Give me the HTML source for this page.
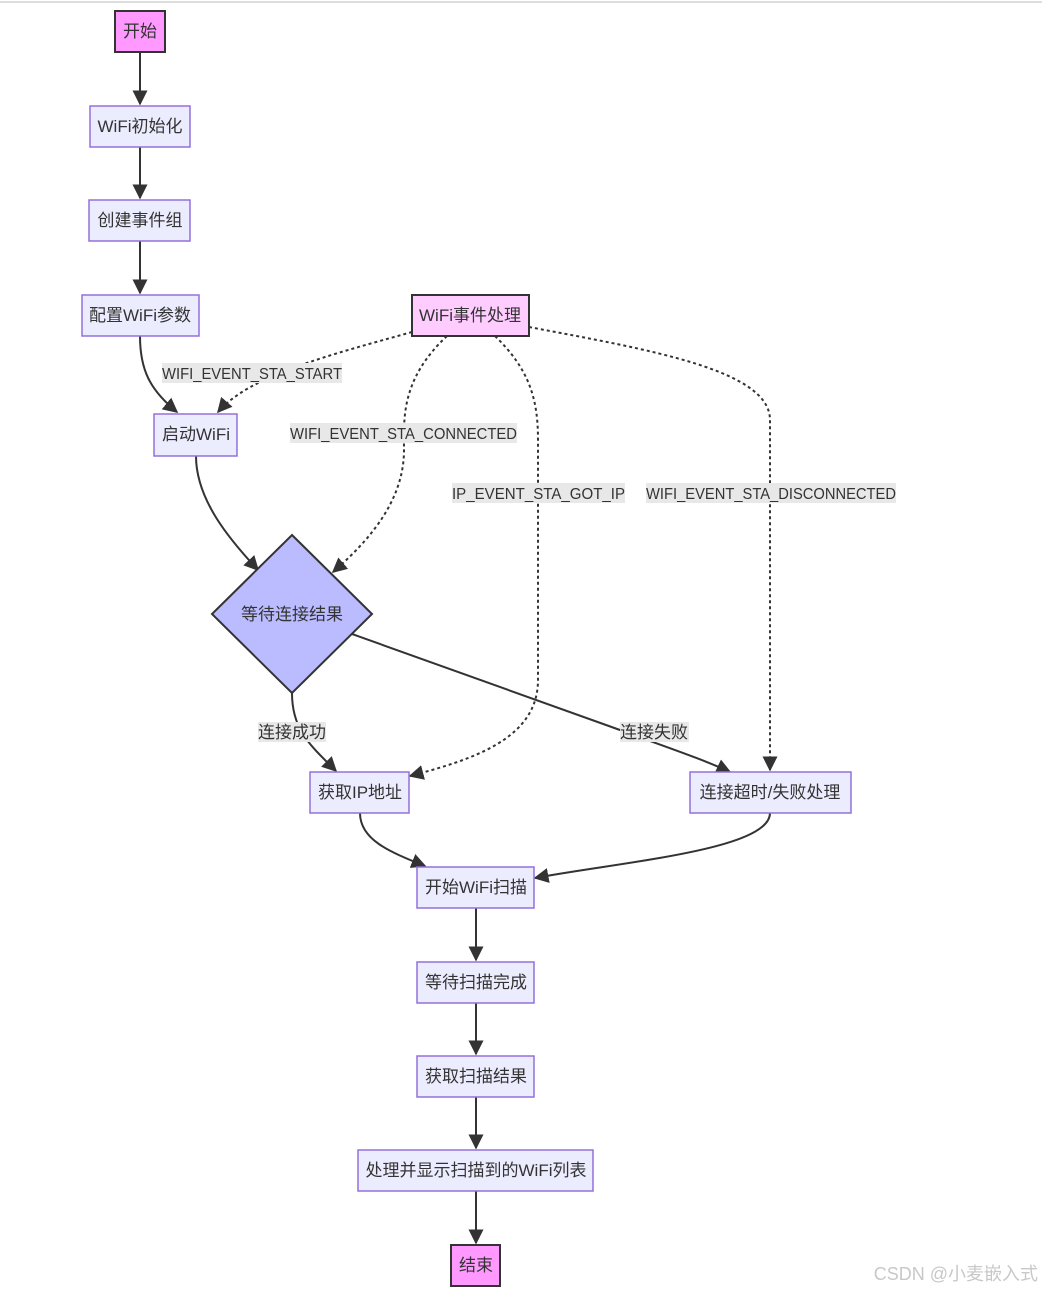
<!DOCTYPE html>
<html><head><meta charset="utf-8"><style>
html,body{margin:0;padding:0;background:#fff;}
svg{display:block;}
text{font-family:"Liberation Sans","Noto Sans CJK SC",sans-serif;font-size:16px;fill:#333;}
.n{fill:#ececff;stroke:#9370db;stroke-width:1.5;}
.e{fill:none;stroke:#333;stroke-width:2;}
.d{fill:none;stroke:#333;stroke-width:2;stroke-dasharray:3 3;}
.lb{fill:#e8e8e8;}
</style></head><body>
<svg width="1042" height="1291" viewBox="0 0 1042 1291" xmlns="http://www.w3.org/2000/svg">
<defs>
<marker id="b" viewBox="0 0 10 10" refX="9" refY="5" markerWidth="15" markerHeight="15" orient="auto" markerUnits="userSpaceOnUse"><path d="M0,0L10,5L0,10z" fill="#333"/></marker></defs>
<line x1="0" y1="2" x2="1042" y2="2" stroke="#ddd" stroke-width="2"/>
<path class="e" d="M140,52V104" marker-end="url(#b)"/>
<path class="e" d="M140,147V198" marker-end="url(#b)"/>
<path class="e" d="M140,241V293" marker-end="url(#b)"/>
<path class="e" d="M140,336C140,370 150,390 177,412" marker-end="url(#b)"/>
<path class="d" d="M412,332C330,355 250,375 218,412" marker-end="url(#b)"/>
<path class="d" d="M447,336C400,380 404,420 404,450C404,500 370,540 333,572" marker-end="url(#b)"/>
<path class="d" d="M495,336C530,370 538,400 538,440V680C538,740 470,760 410,776" marker-end="url(#b)"/>
<path class="d" d="M529,327C650,350 770,370 770,420V770" marker-end="url(#b)"/>
<path class="e" d="M196,456C196,500 230,540 258,570" marker-end="url(#b)"/>
<path class="e" d="M292,693C292,730 310,745 336,771" marker-end="url(#b)"/>
<path class="e" d="M352,634L620,730C660,745 700,758 730,772" marker-end="url(#b)"/>
<path class="e" d="M360,813C360,840 390,852 425,866" marker-end="url(#b)"/>
<path class="e" d="M770,813C770,850 620,862 535,878" marker-end="url(#b)"/>
<path class="e" d="M476,908V960" marker-end="url(#b)"/>
<path class="e" d="M476,1003V1054" marker-end="url(#b)"/>
<path class="e" d="M476,1097V1148" marker-end="url(#b)"/>
<path class="e" d="M476,1191V1243" marker-end="url(#b)"/>
<rect class="lb" x="162" y="363" width="180" height="20"/><text x="162" y="379" textLength="180" lengthAdjust="spacingAndGlyphs">WIFI_EVENT_STA_START</text>
<rect class="lb" x="290" y="423" width="227" height="20"/><text x="290" y="439" textLength="227" lengthAdjust="spacingAndGlyphs">WIFI_EVENT_STA_CONNECTED</text>
<rect class="lb" x="452" y="483" width="173" height="20"/><text x="452" y="499" textLength="173" lengthAdjust="spacingAndGlyphs">IP_EVENT_STA_GOT_IP</text>
<rect class="lb" x="646" y="483" width="250" height="20"/><text x="646" y="499" textLength="250" lengthAdjust="spacingAndGlyphs">WIFI_EVENT_STA_DISCONNECTED</text>
<rect class="lb" x="258" y="722" width="68" height="20"/><text x="292" y="738" text-anchor="middle" style="font-size:17px">连接成功</text>
<rect class="lb" x="620" y="722" width="69" height="20"/><text x="654" y="738" text-anchor="middle" style="font-size:17px">连接失败</text>
<rect x="115" y="11" width="50" height="41" fill="#f9f" stroke="#333" stroke-width="2"/><text x="140" y="37" text-anchor="middle" style="font-size:17px">开始</text>
<rect class="n" x="90" y="106" width="100" height="41"/><text x="140" y="132" text-anchor="middle" style="font-size:17px">WiFi初始化</text>
<rect class="n" x="89" y="200" width="101" height="41"/><text x="140" y="226" text-anchor="middle" style="font-size:17px">创建事件组</text>
<rect class="n" x="82" y="295" width="117" height="41"/><text x="140" y="321" text-anchor="middle" style="font-size:17px">配置WiFi参数</text>
<rect x="412" y="295" width="117" height="41" fill="#fcf" stroke="#333" stroke-width="2"/><text x="470" y="321" text-anchor="middle" style="font-size:17px">WiFi事件处理</text>
<rect class="n" x="154" y="414" width="83" height="42"/><text x="196" y="440" text-anchor="middle" style="font-size:17px">启动WiFi</text>
<polygon points="292,535 372,614 292,693 212,614" fill="#bbf" stroke="#333" stroke-width="2"/><text x="292" y="620" text-anchor="middle" style="font-size:17px">等待连接结果</text>
<rect class="n" x="310" y="772" width="99" height="41"/><text x="360" y="798" text-anchor="middle" style="font-size:17px">获取IP地址</text>
<rect class="n" x="690" y="772" width="161" height="41"/><text x="770" y="798" text-anchor="middle" style="font-size:17px">连接超时/失败处理</text>
<rect class="n" x="417" y="867" width="117" height="41"/><text x="476" y="893" text-anchor="middle" style="font-size:17px">开始WiFi扫描</text>
<rect class="n" x="417" y="962" width="117" height="41"/><text x="476" y="988" text-anchor="middle" style="font-size:17px">等待扫描完成</text>
<rect class="n" x="417" y="1056" width="117" height="41"/><text x="476" y="1082" text-anchor="middle" style="font-size:17px">获取扫描结果</text>
<rect class="n" x="358" y="1150" width="235" height="41"/><text x="476" y="1176" text-anchor="middle" style="font-size:17px">处理并显示扫描到的WiFi列表</text>
<rect x="451" y="1245" width="49" height="41" fill="#f9f" stroke="#333" stroke-width="2"/><text x="476" y="1271" text-anchor="middle" style="font-size:17px">结束</text>
<text x="1038" y="1280" text-anchor="end" style="font-size:18px;fill:#c8c8c8">CSDN @小麦嵌入式</text>
</svg>
</body></html>
